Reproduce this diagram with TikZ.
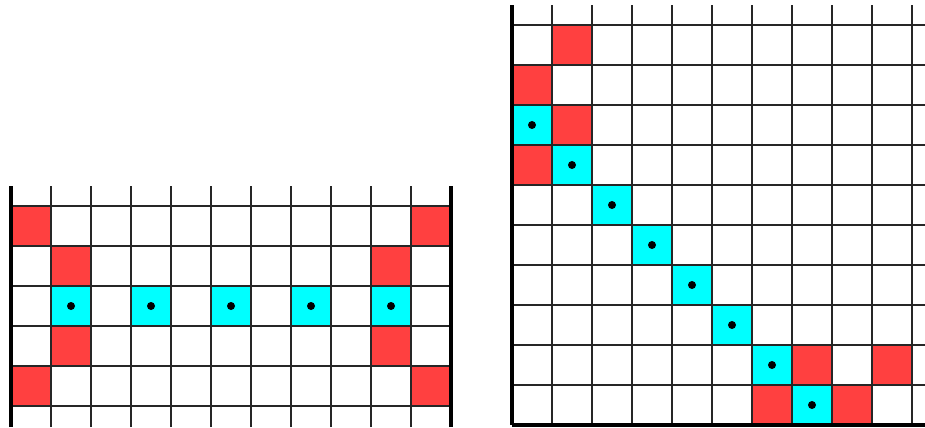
\documentclass[tikz,border=0pt]{standalone}
\usetikzlibrary{positioning}

\definecolor{cellred}{RGB}{255,64,64}
\definecolor{cellcyan}{RGB}{0,255,255}

\begin{document}
\begin{tikzpicture}[
  gridline/.style={draw=black!85, line width=1pt},
  axisline/.style={draw=black, line width=2.2pt},
  redcell/.style={fill=cellred},
  cyancell/.style={fill=cellcyan},
  pebble/.style={fill=black}
]

\useasboundingbox (-0.275,-0.525) rectangle (22.85,10.15);

% Left board
\foreach \c/\r in {0/0, 1/1, 1/3, 0/4, 10/0, 9/1, 9/3, 10/4}
  \path[redcell] (\c,4-\r) rectangle ++(1,1);
\foreach \c in {1,3,5,7,9} {
  \path[cyancell] (\c,2) rectangle ++(1,1);
  \fill[pebble] (\c+0.5,2.5) circle (0.1);
}
\foreach \x in {1,...,10}
  \draw[gridline] (\x,-0.525) -- (\x,5.5);
\foreach \y in {0,...,5}
  \draw[gridline] (0,\y) -- (11,\y);
\draw[axisline] (0,-0.525) -- (0,5.5);
\draw[axisline] (11,-0.525) -- (11,5.5);

% Right board
\begin{scope}[shift={(12.525,-0.475)}]
  \foreach \c/\r in {1/0, 0/1, 1/2, 0/3, 7/8, 9/8, 6/9, 8/9}
    \path[redcell] (\c,9-\r) rectangle ++(1,1);
  \foreach \c/\r in {0/2, 1/3, 2/4, 3/5, 4/6, 5/7, 6/8, 7/9} {
    \path[cyancell] (\c,9-\r) rectangle ++(1,1);
    \fill[pebble] (\c+0.5,9.5-\r) circle (0.1);
  }
  \foreach \x in {1,...,10}
    \draw[gridline] (\x,0) -- (\x,10.5);
  \foreach \y in {1,...,10}
    \draw[gridline] (0,\y) -- (10.325,\y);
  \draw[axisline] (0,0) -- (0,10.5);
  \draw[axisline] (0,0) -- (10.325,0);
\end{scope}

\end{tikzpicture}
\end{document}
